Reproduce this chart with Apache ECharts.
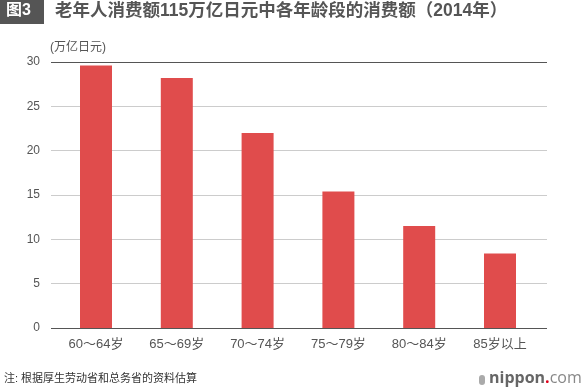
<!DOCTYPE html>
<html><head><meta charset="utf-8">
<script src="https://cdn.jsdelivr.net/npm/echarts@6/dist/echarts.min.js"></script>
<style>html,body{margin:0;padding:0;background:#fff}#c{width:584px;height:390px}</style>
</head><body><div id="c"></div>
<script>
const categories = ['60～64岁','65～69岁','70～74岁','75～79岁','80～84岁','85岁以上'];
const values = [29.6, 28.2, 22.0, 15.4, 11.5, 8.4];
const yTicks = [0, 5, 10, 15, 20, 25, 30];
const titleText = '老年人消费额115万亿日元中各年龄段的消费额（2014年）';
const figLabel = '图3';
const unitText = '(万亿日元)';
const noteText = '注: 根据厚生劳动省和总务省的资料估算';

const font = '"Liberation Sans", "Noto Sans CJK SC", sans-serif';
const chart = echarts.init(document.getElementById('c'), null, {renderer: 'canvas'});
const lineColors = yTicks.map((t, i) => (i === 0 || i === yTicks.length - 1) ? '#555' : '#cccccc');
chart.setOption({
  animation: false,
  grid: [
    {left: 51, right: 37, top: 62, bottom: 62},
    {left: 55.6, right: 43.6, top: 62, bottom: 62}
  ],
  xAxis: [
    {gridIndex: 0, type: 'category', data: categories, show: false},
    {gridIndex: 1, type: 'category', data: categories,
     axisLine: {show: false}, axisTick: {show: false},
     axisLabel: {color: '#555', fontSize: 13, margin: 10, fontFamily: font}}
  ],
  yAxis: [
    {gridIndex: 0, type: 'value', min: 0, max: 30, interval: 5,
     axisLine: {show: false}, axisTick: {show: false},
     axisLabel: {color: '#555', fontSize: 12, margin: 11, fontFamily: font},
     splitLine: {lineStyle: {color: lineColors, width: 1}}},
    {gridIndex: 1, type: 'value', min: 0, max: 30, interval: 5, show: false, splitLine: {show: false}}
  ],
  series: [{
    type: 'bar', xAxisIndex: 1, yAxisIndex: 1, data: values,
    barWidth: 32, itemStyle: {color: '#e04c4c'}
  }],
  graphic: [
    {type: 'rect', left: 0, top: 0, shape: {width: 44, height: 24}, style: {fill: '#555'}},
    {type: 'text', left: 6, top: 3, style: {text: figLabel, fill: '#fff', font: 'bold 16px ' + font}},
    {type: 'text', left: 55, top: 2, style: {text: titleText, fill: '#555', font: 'bold 17.5px ' + font}},
    {type: 'text', left: 50, top: 42, style: {text: unitText, fill: '#555', font: '12px ' + font}},
    {type: 'text', left: 4, top: 373, style: {text: noteText, fill: '#333', font: '11px ' + font}},
    {type: 'rect', left: 479, top: 375, shape: {width: 6, height: 10, r: 3}, style: {fill: '#aaa'}},
    {type: 'text', left: 489, top: 370, style: {
      text: '{b|nippon}{r|.}{c|com}',
      rich: {
        b: {fill: '#666', font: 'bold 16px "Open Sans", sans-serif'},
        r: {fill: '#e0001a', font: 'bold 16px "Open Sans", sans-serif'},
        c: {fill: '#888', font: '16px "Open Sans", sans-serif'}
      }}}
  ]
});
</script></body></html>
